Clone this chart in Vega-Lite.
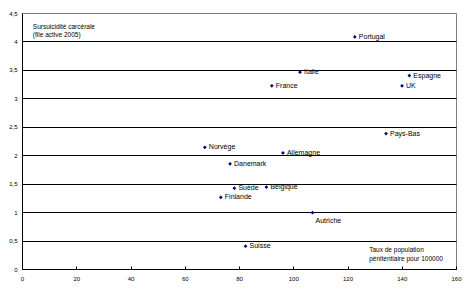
{
  "$schema": "https://vega.github.io/schema/vega-lite/v6.json",
  "autosize": "none",
  "width": 434,
  "height": 256,
  "padding": {"left": 22, "top": 13, "right": 13, "bottom": 20},
  "background": "white",
  "config": {
    "view": {"stroke": "#808080", "strokeWidth": 1},
    "font": "Liberation Sans"
  },
  "data": {
    "values": [
      {"pays": "Portugal", "taux": 122.7, "sursuicidite": 4.08, "pos": "right"},
      {"pays": "Italie", "taux": 102.5, "sursuicidite": 3.46, "pos": "right"},
      {"pays": "France", "taux": 92.1, "sursuicidite": 3.22, "pos": "right"},
      {"pays": "Espagne", "taux": 142.8, "sursuicidite": 3.40, "pos": "right"},
      {"pays": "UK", "taux": 140.1, "sursuicidite": 3.22, "pos": "right"},
      {"pays": "Pays-Bas", "taux": 134.2, "sursuicidite": 2.38, "pos": "right"},
      {"pays": "Norvège", "taux": 67.4, "sursuicidite": 2.14, "pos": "right"},
      {"pays": "Allemagne", "taux": 96.2, "sursuicidite": 2.04, "pos": "right"},
      {"pays": "Danemark", "taux": 76.7, "sursuicidite": 1.85, "pos": "right"},
      {"pays": "Suède", "taux": 78.3, "sursuicidite": 1.42, "pos": "right"},
      {"pays": "Belgique", "taux": 90.1, "sursuicidite": 1.44, "pos": "right"},
      {"pays": "Finlande", "taux": 73.3, "sursuicidite": 1.26, "pos": "right"},
      {"pays": "Autriche", "taux": 107.1, "sursuicidite": 0.99, "pos": "below"},
      {"pays": "Suisse", "taux": 82.4, "sursuicidite": 0.40, "pos": "right"}
    ]
  },
  "encoding": {
    "x": {
      "field": "taux", "type": "quantitative",
      "scale": {"domain": [0, 160], "nice": false, "zero": true},
      "axis": {
        "values": [0, 20, 40, 60, 80, 100, 120, 140, 160],
        "title": null, "grid": false,
        "domainColor": "black", "domainWidth": 1,
        "tickColor": "black", "tickSize": -3,
        "labelFontSize": 6, "labelColor": "black", "labelPadding": 9,
        "labelFlush": false, "labelOverlap": false
      }
    },
    "y": {
      "field": "sursuicidite", "type": "quantitative",
      "scale": {"domain": [0, 4.5], "nice": false},
      "axis": {
        "values": [0, 0.5, 1, 1.5, 2, 2.5, 3, 3.5, 4, 4.5],
        "labelExpr": "replace(format(datum.value, ''), '.', ',')",
        "title": null, "grid": true,
        "gridColor": {"condition": {"test": "datum.value == 4.5", "value": "#808080"}, "value": "black"},
        "gridWidth": 1, "gridOpacity": 1,
        "domainColor": "black", "domainWidth": 1,
        "ticks": false, "labelPadding": 5,
        "labelFontSize": 6, "labelColor": "black", "labelFlush": false, "labelOverlap": false
      }
    }
  },
  "layer": [
    {
      "mark": {"type": "point", "shape": "diamond", "filled": true, "color": "#000080", "size": 14, "opacity": 1}
    },
    {
      "transform": [{"filter": "datum.pos == 'right'"}],
      "mark": {"type": "text", "align": "left", "baseline": "middle", "dx": 4, "fontSize": 7, "color": "black"},
      "encoding": {"text": {"field": "pays"}}
    },
    {
      "transform": [{"filter": "datum.pos == 'below'"}],
      "mark": {"type": "text", "align": "left", "baseline": "middle", "dx": 3, "dy": 8, "fontSize": 7, "color": "black"},
      "encoding": {"text": {"field": "pays"}}
    },
    {
      "transform": [{"filter": "datum.pays == 'Portugal'"}],
      "mark": {"type": "text", "align": "left", "baseline": "middle", "fontSize": 6.5, "color": "black", "lineHeight": 8},
      "encoding": {
        "x": {"datum": 4, "type": "quantitative",
          "axis": {
            "values": [0, 20, 40, 60, 80, 100, 120, 140, 160],
            "title": null, "grid": false,
            "domainColor": "black", "domainWidth": 1,
            "tickColor": "black", "tickSize": -3,
            "labelFontSize": 6, "labelColor": "black", "labelPadding": 9,
            "labelFlush": false, "labelOverlap": false
          }},
        "y": {"datum": 4.25, "type": "quantitative",
          "axis": {
            "values": [0, 0.5, 1, 1.5, 2, 2.5, 3, 3.5, 4, 4.5],
            "labelExpr": "replace(format(datum.value, ''), '.', ',')",
            "title": null, "grid": true,
            "gridColor": {"condition": {"test": "datum.value == 4.5", "value": "#808080"}, "value": "black"},
            "gridWidth": 1, "gridOpacity": 1,
            "domainColor": "black", "domainWidth": 1,
            "ticks": false, "labelPadding": 5,
            "labelFontSize": 6, "labelColor": "black", "labelFlush": false, "labelOverlap": false
          }},
        "text": {"value": ["Sursuicidité carcérale", "(file active 2005)"]}
      }
    },
    {
      "transform": [{"filter": "datum.pays == 'Portugal'"}],
      "mark": {"type": "text", "align": "left", "baseline": "middle", "fontSize": 6.5, "color": "black", "lineHeight": 9},
      "encoding": {
        "x": {"datum": 128, "type": "quantitative",
          "axis": {
            "values": [0, 20, 40, 60, 80, 100, 120, 140, 160],
            "title": null, "grid": false,
            "domainColor": "black", "domainWidth": 1,
            "tickColor": "black", "tickSize": -3,
            "labelFontSize": 6, "labelColor": "black", "labelPadding": 9,
            "labelFlush": false, "labelOverlap": false
          }},
        "y": {"datum": 0.34, "type": "quantitative",
          "axis": {
            "values": [0, 0.5, 1, 1.5, 2, 2.5, 3, 3.5, 4, 4.5],
            "labelExpr": "replace(format(datum.value, ''), '.', ',')",
            "title": null, "grid": true,
            "gridColor": {"condition": {"test": "datum.value == 4.5", "value": "#808080"}, "value": "black"},
            "gridWidth": 1, "gridOpacity": 1,
            "domainColor": "black", "domainWidth": 1,
            "ticks": false, "labelPadding": 5,
            "labelFontSize": 6, "labelColor": "black", "labelFlush": false, "labelOverlap": false
          }},
        "text": {"value": ["Taux de population", "pénitentiaire pour 100000"]}
      }
    }
  ]
}
